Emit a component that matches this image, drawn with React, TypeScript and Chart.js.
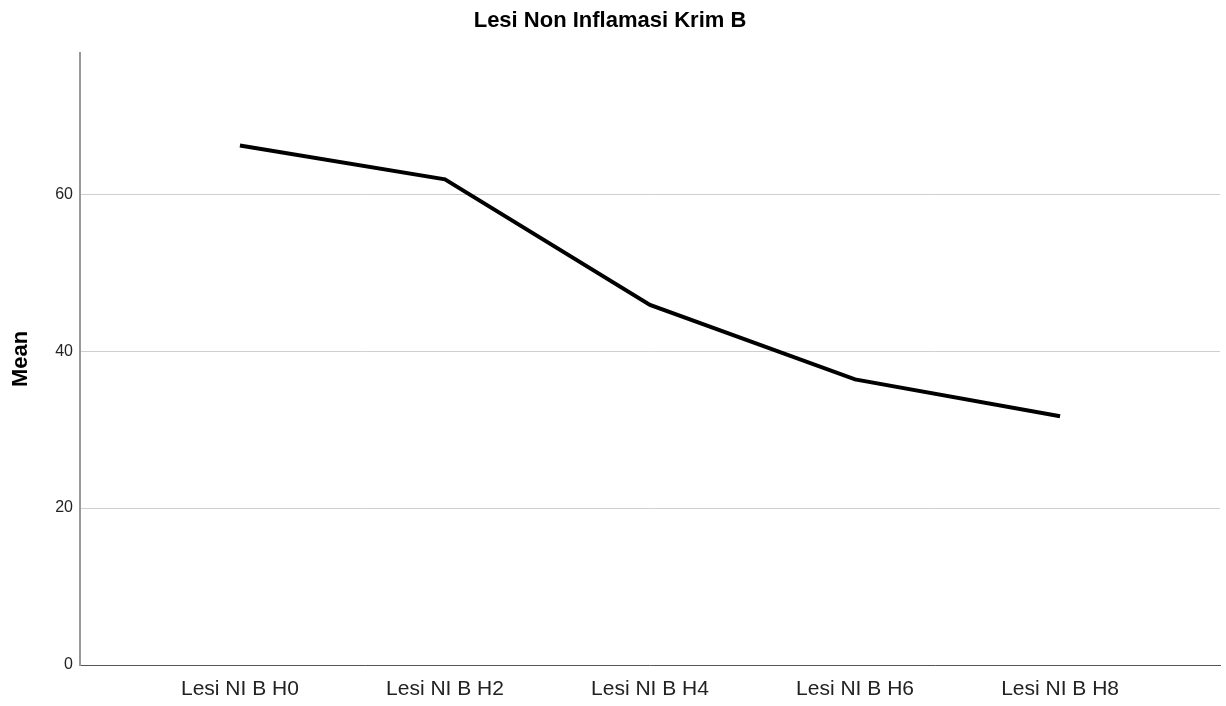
import React, { useEffect, useRef } from "react";
import { Chart, registerables } from "chart.js";

Chart.register(...registerables);

const categories: string[] = ["Lesi NI B H0", "Lesi NI B H2", "Lesi NI B H4", "Lesi NI B H6", "Lesi NI B H8"];
const meanValues: number[] = [66.2, 61.9, 45.9, 36.4, 31.7];
const yTickValues: number[] = [0, 20, 40, 60];

const FONT = "'Liberation Sans', Arial, sans-serif";

export default function App() {
  const ref = useRef<HTMLCanvasElement | null>(null);

  useEffect(() => {
    const canvas = ref.current;
    if (!canvas) return;
    const chart = new Chart(canvas, {
      type: "line",
      data: {
        datasets: [
          {
            label: "Mean",
            data: meanValues.map((v, i) => ({ x: i, y: v })),
            borderColor: "#000000",
            borderWidth: 4,
            pointRadius: 0,
            fill: false,
            tension: 0,
          },
        ],
      },
      options: {
        animation: false,
        responsive: false,
        layout: { padding: { left: 0, right: 6, top: 0, bottom: 0 } },
        plugins: {
          legend: { display: false },
          tooltip: { enabled: false },
          title: {
            display: true,
            text: "Lesi Non Inflamasi Krim B",
            color: "#000000",
            font: { family: FONT, size: 22, weight: "bold", lineHeight: 1.2 },
            padding: { top: 8, bottom: 18.6 },
          },
        },
        scales: {
          x: {
            type: "linear",
            min: -0.78,
            max: 4.78,
            afterBuildTicks: (scale: any) => {
              scale.ticks = categories.map((_, i) => ({ value: i }));
            },
            afterFit: (scale: any) => {
              scale.height = 41;
            },
            grid: { display: false, drawTicks: false },
            border: { display: true, color: "#555555", width: 1 },
            ticks: {
              padding: 12,
              color: "#222222",
              font: { family: FONT, size: 21 },
              maxRotation: 0,
              autoSkip: false,
              callback: (v: any) => categories[Number(v)] ?? "",
            },
          },
          y: {
            type: "linear",
            min: 0,
            max: 78,
            afterBuildTicks: (scale: any) => {
              scale.ticks = yTickValues.map((v) => ({ value: v }));
            },
            afterFit: (scale: any) => {
              scale.width = 80;
            },
            grid: {
              drawTicks: false,
              color: (ctx: any) => (ctx.tick && ctx.tick.value > 0 ? "#cfcfcf" : "rgba(0,0,0,0)"),
              lineWidth: 1,
            },
            border: { display: true, color: "#999999", width: 2 },
            ticks: {
              padding: 7,
              color: "#222222",
              font: { family: FONT, size: 16 },
              callback: (v: any) => String(v),
            },
            title: {
              display: true,
              text: "Mean",
              color: "#000000",
              font: { family: FONT, size: 22, weight: "bold" },
              padding: { top: 8, bottom: 0 },
            },
          },
        },
      },
    });
    return () => chart.destroy();
  }, []);

  return (
    <div style={{ position: "fixed", left: 0, top: 0, width: 1226, height: 706, background: "#ffffff" }}>
      <canvas ref={ref} width={1226} height={706} style={{ display: "block" }} />
    </div>
  );
}
